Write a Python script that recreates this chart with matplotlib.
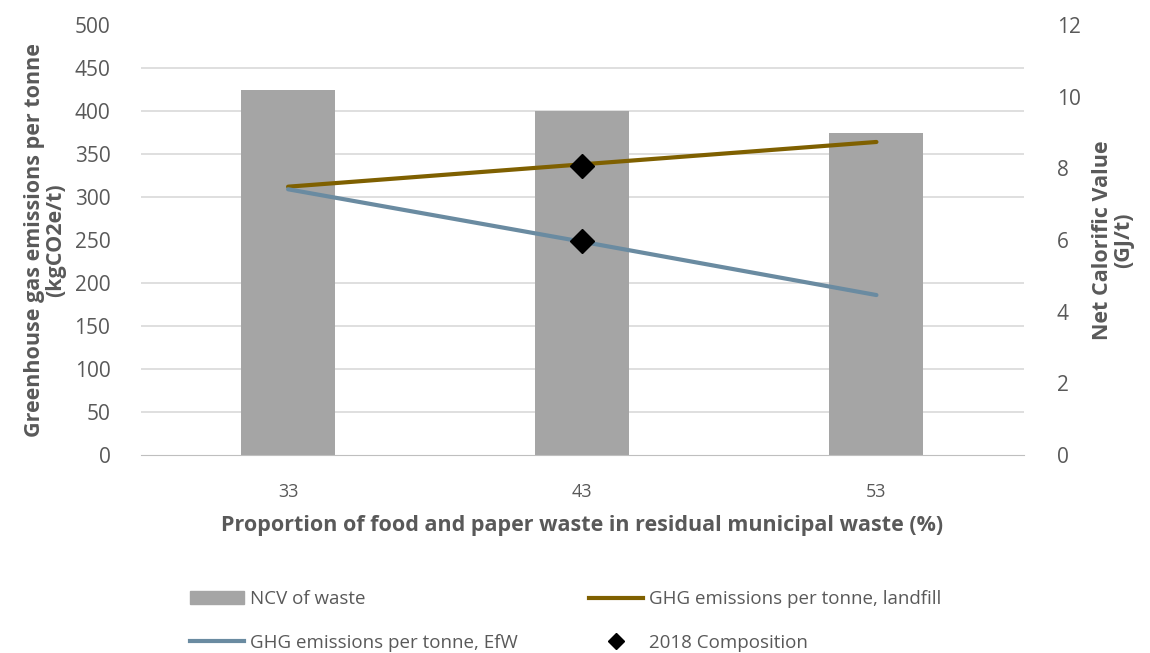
import matplotlib.pyplot as plt
from matplotlib.ticker import MultipleLocator
from matplotlib.lines import Line2D
from matplotlib.patches import Patch

plt.rcParams['font.family'] = ['Open Sans', 'DejaVu Sans']

# proportion of food and paper waste (%)
proportions = ['33', '43', '53']
ncv = [10.2, 9.6, 9.0]                 # GJ/t
ghg_landfill = [312, 338, 364]         # kgCO2e/t
ghg_efw = [309, 248, 186]              # kgCO2e/t
composition_2018 = [336, 249]          # 2018 points at 43 %

txt = '#595959'
x = list(range(len(proportions)))

fig = plt.figure(figsize=(11.5, 6.53), dpi=100)
ax = fig.add_axes([0.1226, 0.3032, 0.7674, 0.6585])
ax2 = ax.twinx()

# bars on the right axis, sitting behind the lines
ax.set_zorder(ax2.get_zorder() + 1)
ax.patch.set_visible(False)

ax2.bar(x, ncv, width=0.32, color='#A5A5A5', zorder=2)
ax2.set_ylim(0, 12)
ax2.yaxis.set_major_locator(MultipleLocator(2))
ax2.yaxis.set_minor_locator(MultipleLocator(1.2))
ax2.grid(which='minor', axis='y', color='#D9D9D9', linewidth=1.2, zorder=0)
ax2.set_axisbelow(True)

ax.plot(x, ghg_landfill, color='#7F6000', linewidth=3, solid_capstyle='round')
ax.plot(x, ghg_efw, color='#6A8BA1', linewidth=3, solid_capstyle='round')
ax.plot([x[1], x[1]], composition_2018, linestyle='none', marker='D',
        markersize=12, color='black')

ax.set_xlim(-0.5, 2.5)
ax.set_ylim(0, 500)
ax.yaxis.set_major_locator(MultipleLocator(50))
ax.set_xticks(x)
ax.set_xticklabels(proportions)

for a in (ax, ax2):
    for s in a.spines.values():
        s.set_visible(False)
    a.tick_params(which='both', length=0, labelsize=15, labelcolor=txt)
ax.spines['bottom'].set_visible(True)
ax.spines['bottom'].set_color('#BFBFBF')
ax.tick_params(axis='x', pad=20, labelsize=13)
ax.tick_params(axis='y', pad=22)
ax2.tick_params(axis='y', pad=24)

ax.set_xlabel('Proportion of food and paper waste in residual municipal waste (%)',
              fontsize=15.5, fontweight='bold', color=txt, labelpad=10)
ax.set_ylabel('Greenhouse gas emissions per tonne\n(kgCO2e/t)',
              fontsize=15.5, fontweight='bold', color=txt, labelpad=6,
              linespacing=1.0)
ax2.set_ylabel('Net Calorific Value\n(GJ/t)', fontsize=15.5, fontweight='bold',
               color=txt, labelpad=8, linespacing=1.0)

# legend fills column by column, so order for rows: NCV | landfill, EfW | 2018
handles = [
    Patch(color='#A5A5A5'),
    Line2D([], [], color='#6A8BA1', linewidth=3),
    Line2D([], [], color='#7F6000', linewidth=3),
    Line2D([], [], linestyle='none', marker='D', markersize=8, color='black'),
]
labels = ['NCV of waste', 'GHG emissions per tonne, EfW',
          'GHG emissions per tonne, landfill', '2018 Composition']
fig.legend(handles, labels, ncol=2, loc='upper left', bbox_to_anchor=(0.165, 0.096),
           frameon=False, fontsize=13.5, labelcolor=txt, columnspacing=3.8,
           handlelength=2.9, handletextpad=0.3, labelspacing=1.35,
           borderaxespad=0, borderpad=0)

fig.savefig('out.png', dpi=100)
